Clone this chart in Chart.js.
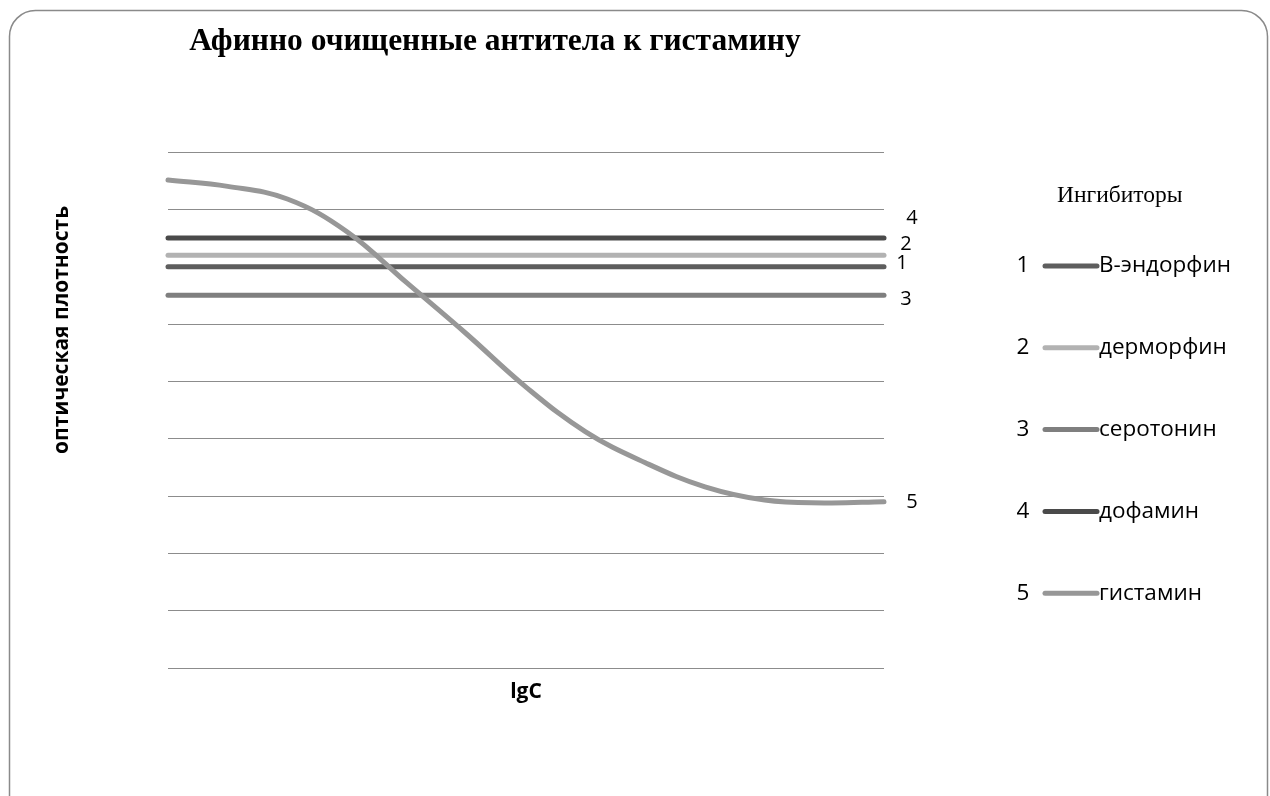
<!DOCTYPE html>
<html lang="ru">
<head>
<meta charset="utf-8" />
<title>Афинно очищенные антитела к гистамину</title>
<style>
html,body{margin:0;padding:0;background:#fff;}
#wrap{width:1270px;height:796px;position:relative;}
canvas{display:block;}
</style>
</head>
<body>
<div id="wrap"><canvas id="chart" width="1270" height="796"></canvas></div>

<script src="https://cdn.jsdelivr.net/npm/chart.js@4.4.1"></script>
<script>
/* ─────────── data ─────────── */
const lgC = ['1','2','3','4','5','6','7','8','9','10','11','12','13'];

const endorphin = [0.70,0.70,0.70,0.70,0.70,0.70,0.70,0.70,0.70,0.70,0.70,0.70,0.70];
const dermorphin = [0.72,0.72,0.72,0.72,0.72,0.72,0.72,0.72,0.72,0.72,0.72,0.72,0.72];
const serotonin = [0.65,0.65,0.65,0.65,0.65,0.65,0.65,0.65,0.65,0.65,0.65,0.65,0.65];
const dopamine = [0.75,0.75,0.75,0.75,0.75,0.75,0.75,0.75,0.75,0.75,0.75,0.75,0.75];
const histamine = [0.851,0.840,0.818,0.761,0.672,0.583,0.490,0.412,0.358,0.316,0.293,0.288,0.290];

const seriesNames = ['В-эндорфин','дерморфин','серотонин','дофамин','гистамин'];
const seriesNums  = ['1','2','3','4','5'];
const colors = ['#5e5e5e','#b2b2b2','#7f7f7f','#4a4a4a','#979797'];

/* end-of-line number labels, offset from the last point */
const endOffsets = [[18,-3],[22,-11],[22,4],[28,-20],[28,1]];

/* ─────────── decorations plug-in ─────────── */
const deco = {
    id:'deco',
    beforeDraw(chart){
        const {ctx} = chart;
        ctx.save();
        ctx.strokeStyle='#8a8a8a'; ctx.lineWidth=1.5;
        ctx.beginPath();
        ctx.roundRect(9.5,10.5,1258,830,26);
        ctx.stroke();
        ctx.restore();
    },
    afterDraw(chart){
        const {ctx, chartArea} = chart;
        ctx.save();
        ctx.fillStyle='#000';
        ctx.textBaseline='middle';

        /* title */
        ctx.font='bold 31.5px "Liberation Serif"';
        ctx.textAlign='center';
        ctx.fillText('Афинно очищенные антитела к гистамину',495,42);

        /* axis titles */
        ctx.font='bold 21px "Open Sans"';
        ctx.fillText('lgC',(chartArea.left+chartArea.right)/2,692);
        ctx.save();
        ctx.translate(62,330);
        ctx.rotate(-Math.PI/2);
        ctx.font='bold 21px "Open Sans"';
        ctx.fillText('оптическая плотность',0,0);
        ctx.restore();

        /* number labels at line ends */
        ctx.font='20px "Open Sans"';
        ctx.textAlign='center';
        chart.data.datasets.forEach((ds,i)=>{
            const pts = chart.getDatasetMeta(i).data;
            const p = pts[pts.length-1];
            ctx.fillText(seriesNums[i],p.x+endOffsets[i][0],p.y+endOffsets[i][1]);
        });

        /* legend */
        ctx.font='23.5px "Liberation Serif"';
        ctx.textAlign='left';
        ctx.fillText('Ингибиторы',1057,196);
        const top=266, step=81.8;
        seriesNames.forEach((n,i)=>{
            const y = top+i*step;
            ctx.font='22.5px "Open Sans"';
            ctx.textAlign='center';
            ctx.fillText(seriesNums[i],1023,y);
            ctx.strokeStyle=colors[i]; ctx.lineWidth=5; ctx.lineCap='round';
            ctx.beginPath(); ctx.moveTo(1045,y); ctx.lineTo(1097,y); ctx.stroke();
            ctx.textAlign='left';
            ctx.fillText(n,1099,y);
        });
        ctx.restore();
    }
};

const allSeries = [endorphin,dermorphin,serotonin,dopamine,histamine];

new Chart(document.getElementById('chart'),{
    type:'line',
    data:{
        labels:lgC,
        datasets:allSeries.map((d,i)=>({
            label:seriesNames[i],
            data:d,
            borderColor:colors[i],
            backgroundColor:colors[i],
            borderWidth:5,
            borderCapStyle:'round',
            pointRadius:0,
            tension:i===4?0.4:0,
            clip:false,
            order:i===4?0:1
        }))
    },
    options:{
        responsive:false,
        animation:false,
        layout:{padding:{left:168,right:386,top:152,bottom:120}},
        plugins:{legend:{display:false},tooltip:{enabled:false}},
        scales:{
            x:{
                offset:false,
                grid:{display:false},
                border:{display:false},
                ticks:{display:false}
            },
            y:{
                min:0,max:0.9,
                ticks:{display:false,stepSize:0.1},
                grid:{color:'#8c8c8c',lineWidth:1,drawTicks:false},
                border:{display:false}
            }
        }
    },
    plugins:[deco]
});
</script>
</body>
</html>
